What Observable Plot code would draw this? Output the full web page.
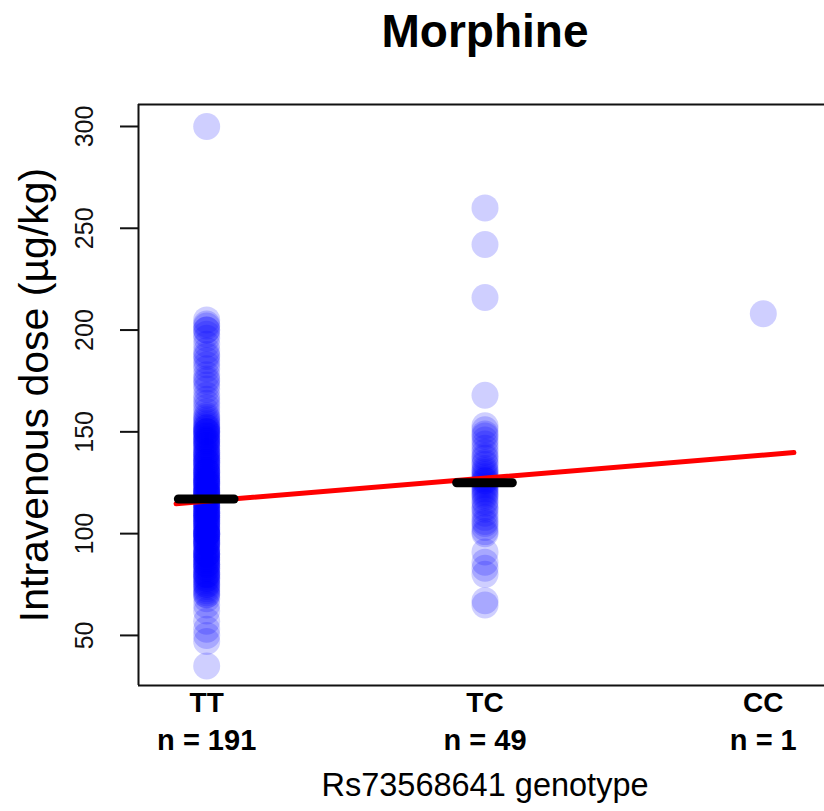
<!DOCTYPE html>
<html><head><meta charset="utf-8">
<script src="https://cdn.jsdelivr.net/npm/d3@7"></script>
<script src="https://cdn.jsdelivr.net/npm/@observablehq/plot@0.6"></script>
<style>
body{margin:0;background:#fff}
#chart svg{font-family:"Liberation Sans",Arial,Helvetica,sans-serif;overflow:hidden}
</style>
</head><body><div id="chart"></div>
<script>
const genotypes = ["TT", "TC", "CC"];
const genotypeCodes = [1, 2, 3];
const countLabels = ["n = 191", "n = 49", "n = 1"];

const doseTT = [
  300, 205, 203, 202, 200, 200, 198, 196, 193, 190, 188, 187, 185, 183, 181, 178, 176, 175, 173, 171, 168, 166, 164, 162, 160,
  158, 157, 156, 155, 154, 153, 152, 152, 151, 150, 150, 150,
  149, 148, 148, 147, 146, 146, 145, 145, 144, 143, 143, 142, 141, 140, 140,
  139, 139, 138, 137, 137, 136, 135, 135, 135, 134, 133, 133, 132, 131, 131, 130, 130, 130,
  129, 128, 128, 127, 127, 126, 126, 125, 125, 125, 124, 124, 123, 122, 122, 121, 121, 120, 120, 120, 120,
  119, 119, 118, 118, 117, 116, 116, 115, 115, 115, 114, 114, 113, 113, 112, 112, 111, 110, 110, 110, 110,
  109, 109, 108, 108, 107, 107, 106, 106, 105, 105, 105, 104, 103, 103, 102, 102, 101, 100, 100, 100, 100, 100,
  99, 99, 98, 97, 97, 96, 96, 95, 95, 95, 94, 93, 92, 92, 91, 90, 90, 90, 90,
  89, 88, 88, 87, 87, 86, 85, 85, 85, 84, 83, 83, 82, 81, 80, 80, 80,
  79, 78, 78, 77, 76, 75, 75, 74, 73, 72, 71, 70, 70,
  68, 65, 62, 57, 53, 50, 47, 35
];
const doseTC = [
  260, 242, 216, 168, 153, 151, 149, 148, 146, 144, 142, 140, 138, 137, 135, 134, 132, 131, 130, 129, 128, 127, 126, 126,
  125,
  124, 123, 122, 121, 120, 119, 118, 116, 115, 113, 112, 110, 108, 106, 105, 103, 101, 100, 91, 86, 83, 80, 67, 65
];
const doseCC = [208];

const medianDose = [117, 125];
const medianHalfWidth = 0.1;
const fitX = [0.89, 3.11];
const fitY = [114.7, 139.8];

const yTicks = [50, 100, 150, 200, 250, 300];
const xDomain = [0.755, 3.245];
const yDomain = [25.4, 310.8];

const points = [doseTT, doseTC, doseCC].flatMap((arr, i) =>
  arr.map(d => ({code: genotypeCodes[i], dose: d})));
const medians = medianDose.map((m, i) => ({code: genotypeCodes[i], dose: m}));
const fit = fitX.map((x, i) => ({x, y: fitY[i]}));
const xMid = (xDomain[0] + xDomain[1]) / 2;
const labels = genotypes.map((g, i) => ({code: genotypeCodes[i], g, n: countLabels[i]}));

const chart = Plot.plot({
  width: 824,
  height: 811,
  marginLeft: 138,
  marginRight: 0,
  marginTop: 104,
  marginBottom: 126,
  style: {fontFamily: "'Liberation Sans', Arial, Helvetica, sans-serif", background: "#fff"},
  x: {domain: xDomain, range: [138, 831], axis: null},
  y: {domain: yDomain, axis: null},
  marks: [
    Plot.dot(points, {x: "code", y: "dose", r: 13.5, fill: "blue", fillOpacity: 0.19, stroke: "none"}),
    Plot.line(fit, {x: "x", y: "y", stroke: "red", strokeWidth: 5}),
    Plot.ruleY(medians, {x1: d => d.code - medianHalfWidth, x2: d => d.code + medianHalfWidth, y: "dose", stroke: "black", strokeWidth: 9, strokeLinecap: "round"}),
    Plot.ruleY(yDomain, {stroke: "#111", strokeWidth: 2}),
    Plot.ruleX([xDomain[0]], {y1: yDomain[0], y2: yDomain[1], stroke: "#111", strokeWidth: 2}),
    Plot.axisY({ticks: yTicks, tickSize: 18, tickFormat: () => "", label: null, stroke: "#111", strokeWidth: 2}),
    Plot.text(yTicks, {y: d => d, text: d => String(d), frameAnchor: "left", textAnchor: "middle", lineAnchor: "middle", rotate: -90, dx: -54, fontSize: 25, fill: "#111"}),
    Plot.text(["Intravenous dose (\u00b5g/kg)"], {frameAnchor: "left", textAnchor: "middle", lineAnchor: "middle", dx: -104, rotate: -90, fontSize: 41, fill: "#000"}),
    Plot.text(["Morphine"], {x: () => xMid, frameAnchor: "top", lineAnchor: "middle", dy: -72, fontSize: 46, fontWeight: "bold", fill: "#000"}),
    Plot.text(labels, {x: "code", text: "g", frameAnchor: "bottom", lineAnchor: "middle", dy: 18, fontSize: 28, fontWeight: "bold", fill: "#000"}),
    Plot.text(labels, {x: "code", text: "n", frameAnchor: "bottom", lineAnchor: "middle", dy: 55, fontSize: 29, fontWeight: "bold", fill: "#000"}),
    Plot.text(["Rs73568641 genotype"], {x: () => xMid, frameAnchor: "bottom", lineAnchor: "middle", dy: 100, fontSize: 32.5, fill: "#000"})
  ]
});
document.getElementById("chart").appendChild(chart);
</script>
</body></html>
